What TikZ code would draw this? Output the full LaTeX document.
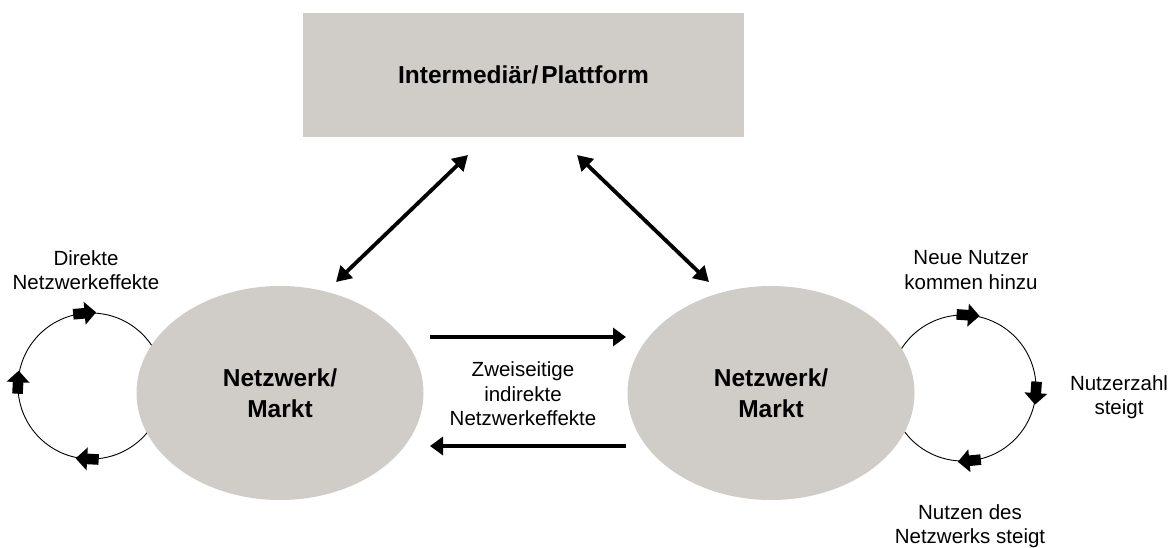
\documentclass[tikz,border=0pt]{standalone}
\usepackage{fontspec}
\setmainfont{Liberation Sans}
\usetikzlibrary{arrows.meta,shapes.geometric}
\definecolor{platgrey}{RGB}{208,205,201}
\begin{document}
\begin{tikzpicture}[x=1pt,y=-1pt,
  txt/.style={font=\fontsize{20.5}{24.5}\selectfont, align=center, inner sep=0},
  heading/.style={font=\fontsize{24.5}{31}\selectfont\bfseries, align=center},
  market/.style={ellipse, fill=platgrey, minimum width=287, minimum height=214, inner sep=0, heading},
  cycleloop/.style={circle, draw, line width=0.9, minimum size=146, inner sep=0, outer sep=0},
  link/.style={line width=3.6, -{Triangle[length=13,width=18]}},
  dlink/.style={line width=3.8, {Triangle[length=15,width=17]}-{Triangle[length=15,width=17]}},
  pics/blockarrow/.style={code={%
    \fill (-11.5,-5.3) -- (0,-5.3) -- (0,-11.5) -- (11.5,0) -- (0,11.5) -- (0,5.3) -- (-11.5,5.3) -- cycle;}}
]
\useasboundingbox (0,0) rectangle (1175,547);

% feedback loops of the two markets (drawn first, partly hidden by the markets)
\node[cycleloop] (lc) at (91,386) {};
\node[cycleloop] (rc) at (963,388) {};
\pic[rotate=5]    at (lc.95)  {blockarrow};
\pic[rotate=87]   at (lc.177) {blockarrow};
\pic[rotate=177]  at (lc.267) {blockarrow};
\pic[rotate=-4]   at (rc.86)  {blockarrow};
\pic[rotate=-94]  at (rc.-4)  {blockarrow};
\pic[rotate=185.5] at (rc.275.5) {blockarrow};

% platform and the two market sides
\node[fill=platgrey, minimum width=441, minimum height=124, inner sep=0, heading] (pf) at (523.5,75) {Intermediär/\hspace{0.12em}Plattform};
\node[market] (lm) at (280,393) {Netzwerk/\\Markt};
\node[market] (rm) at (771,393) {Netzwerk/\\Markt};

% connector end points
\coordinate (lmTop) at (336,282);
\coordinate (pfL)   at (468,155);
\coordinate (pfR)   at (577,155);
\coordinate (rmTop) at (709,282);
\coordinate (lmE1)  at (430,337);
\coordinate (rmW1)  at (626,337);
\coordinate (rmW2)  at (626,446);
\coordinate (lmE2)  at (430,446);

\draw[dlink] (lmTop) -- (pfL);
\draw[dlink] (pfR) -- (rmTop);
\draw[link] (lmE1) -- (rmW1);
\draw[link] (rmW2) -- (lmE2);

% labels
\node[txt] (dl) at (86,270) {Direkte\\Netzwerkeffekte};
\node[txt] (zi) at (523,394) {Zweiseitige\\indirekte\\Netzwerkeffekte};
\node[txt] (nn) at (971,270) {Neue Nutzer\\kommen hinzu};
\node[txt] (nz) at (1119,397) {Nutzerzahl\\steigt};
\node[txt] (nd) at (970,526) {Nutzen des\\Netzwerks steigt};
\end{tikzpicture}
\end{document}
